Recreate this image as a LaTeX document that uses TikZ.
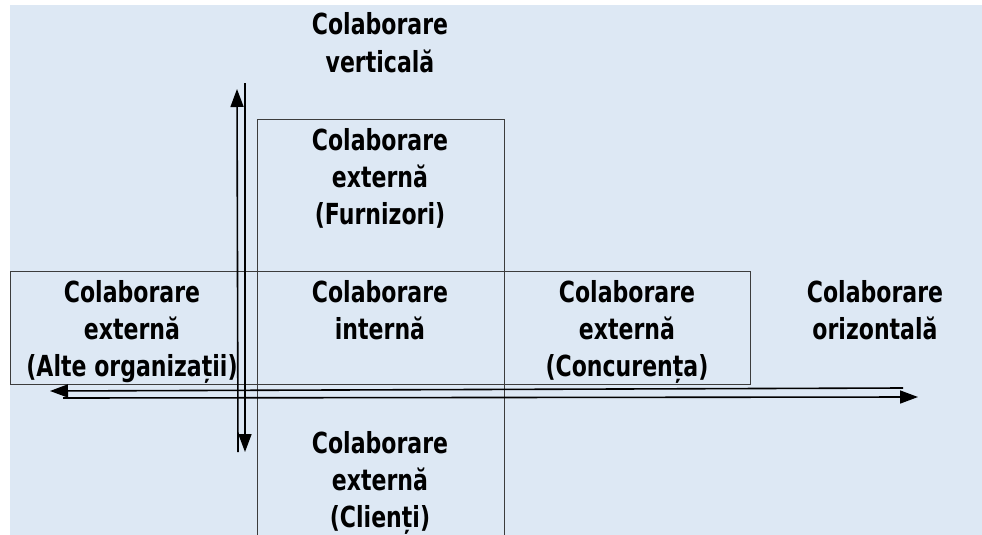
\documentclass[tikz,border=0pt]{standalone}
\usepackage{fontspec}
\newfontfamily\lblfont[FakeStretch=0.76]{DejaVu Sans}
\usetikzlibrary{arrows.meta}
\definecolor{paneblue}{RGB}{221,232,244}
\definecolor{boxline}{RGB}{60,60,60}
\tikzset{
  % base anchor sits on the baseline of the last line
  lbl/.style={anchor=base, align=center, inner sep=0pt,
    font=\lblfont\bfseries\fontsize{29}{37}\selectfont},
  frame/.style={draw=boxline, line width=0.9pt},
  axis/.style={draw=black, line width=1.6pt,
    -{Triangle[length=18pt,width=13pt]}}
}
\begin{document}
\begin{tikzpicture}[x=1pt,y=-1pt]
  \useasboundingbox (0,0) rectangle (982,535);
  \fill[paneblue] (10,5) rectangle (982,535);

  % central column (open at the bottom) and the horizontal band
  \draw[frame] (257,535) -- (257,119) -- (504,119) -- (504,535);
  \draw[frame] (10,271) rectangle (750,384);

  % axes
  \coordinate (vupS) at (238,452);
  \coordinate (vupE) at (237,89);
  \coordinate (vdnS) at (245,83);
  \coordinate (vdnE) at (245,452);
  \coordinate (hlS) at (903,388);
  \coordinate (hlE) at (50,391);
  \coordinate (hrS) at (63,398);
  \coordinate (hrE) at (918,397);
  \draw[axis] (vupS) -- (vupE);
  \draw[axis] (vdnS) -- (vdnE);
  \draw[axis] (hlS) -- (hlE);
  \draw[axis] (hrS) -- (hrE);

  % labels
  \node[lbl] (vert) at (380,72) {Colaborare\\verticală};
  \node[lbl] (furn) at (380,224) {Colaborare\\externă\\(Furnizori)};
  \node[lbl] (alte) at (132,376) {Colaborare\\externă\\(Alte organizații)};
  \node[lbl] (intern) at (380,339) {Colaborare\\internă};
  \node[lbl] (conc) at (627,376) {Colaborare\\externă\\(Concurența)};
  \node[lbl] (oriz) at (875,339) {Colaborare\\orizontală};
  \node[lbl] (clienti) at (380,527) {Colaborare\\externă\\(Clienți)};
\end{tikzpicture}
\end{document}
